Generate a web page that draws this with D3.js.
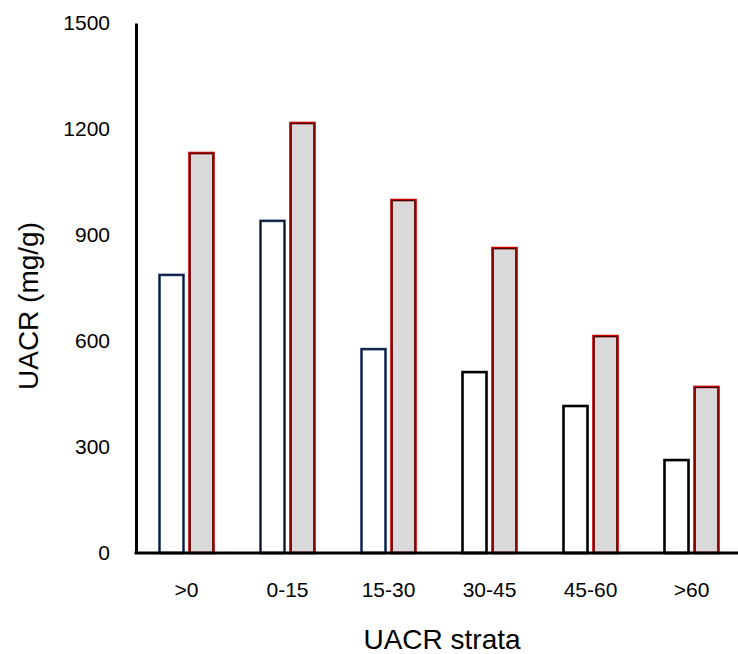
<!DOCTYPE html>
<html>
<head>
<meta charset="utf-8">
<script src="https://cdn.jsdelivr.net/npm/d3@7"></script>
<style>
  body { margin: 0; background: #fff; }
  text { font-family: "Liberation Sans", Arial, sans-serif; fill: #000; }
</style>
</head>
<body>
<svg id="chart" width="738" height="654"></svg>
<script>
// data
const strata = [">0", "0-15", "15-30", "30-45", "45-60", ">60"];
const whiteVals = [787, 940, 577, 512, 416, 263];
const greyVals = [1132, 1217, 999, 863, 614, 470];
const yTicks = [0, 300, 600, 900, 1200, 1500];
// outline colours of the open bars (first three navy, rest black)
const whiteStroke = ["#1f3864", "#1f3864", "#1f3864", "#000", "#000", "#000"];

const svg = d3.select("#chart");
const margin = { left: 136, top: 23, right: 0, bottom: 101 };
const width = 738, height = 654;
const plotH = height - margin.top - margin.bottom;

const x = d3.scaleBand().domain(strata).range([margin.left, margin.left + 6 * 101]);
const y = d3.scaleLinear().domain([0, 1500]).range([margin.top + plotH, margin.top]);

const barW = 24, gap = 6;

// open bars
const gW = svg.append("g");
strata.forEach((s, i) => {
  const cx = x(s) + x.bandwidth() / 2;
  const x0 = cx - gap / 2 - barW;
  gW.append("rect")
    .attr("x", x0).attr("y", y(whiteVals[i]))
    .attr("width", barW).attr("height", y(0) - y(whiteVals[i]))
    .attr("fill", "#fff")
    .attr("stroke", whiteStroke[i])
    .attr("stroke-width", 2.6);
  if (i < 3) {
    gW.append("rect")
      .attr("x", x0).attr("y", y(whiteVals[i]))
      .attr("width", barW).attr("height", y(0) - y(whiteVals[i]))
      .attr("fill", "none")
      .attr("stroke", "#0a0f1e")
      .attr("stroke-width", 0.8);
  }
});

// grey bars with red outline
const gG = svg.append("g");
strata.forEach((s, i) => {
  const cx = x(s) + x.bandwidth() / 2;
  const x0 = cx + gap / 2;
  gG.append("rect")
    .attr("x", x0).attr("y", y(greyVals[i]))
    .attr("width", barW).attr("height", y(0) - y(greyVals[i]))
    .attr("fill", "#d9d9d9")
    .attr("stroke", "#c00000")
    .attr("stroke-width", 2.6);
  gG.append("rect")
    .attr("x", x0 + 0.6).attr("y", y(greyVals[i]) + 0.6)
    .attr("width", barW - 1.2).attr("height", y(0) - y(greyVals[i]) - 0.6)
    .attr("fill", "none")
    .attr("stroke", "#2a0a0a")
    .attr("stroke-width", 0.9);
});

// axes
const yAxis = d3.axisLeft(y).tickValues(yTicks).tickSize(0).tickPadding(26).tickFormat(d3.format("d"));
const gy = svg.append("g").attr("transform", `translate(${margin.left},0)`).call(yAxis);
gy.attr("font-size", null).attr("font-family", null);
gy.select(".domain").attr("stroke", "#000").attr("stroke-width", 3);
gy.selectAll("text").style("font-size", "21px");

const xAxis = d3.axisBottom(x).tickSize(0).tickPadding(29);
const gx = svg.append("g").attr("transform", `translate(0,${y(0)})`).call(xAxis);
gx.attr("font-size", null).attr("font-family", null);
gx.select(".domain").attr("stroke", "#000").attr("stroke-width", 3)
  .attr("d", `M${margin.left - 1.5},0H${width}`);
gx.selectAll("text").style("font-size", "21px");

// titles
svg.append("text")
  .attr("transform", "translate(38,306) rotate(-90)")
  .attr("text-anchor", "middle")
  .style("font-size", "28px")
  .text("UACR (mg/g)");

svg.append("text")
  .attr("x", 442).attr("y", 649)
  .attr("text-anchor", "middle")
  .style("font-size", "28px")
  .text("UACR strata");
</script>
</body>
</html>
